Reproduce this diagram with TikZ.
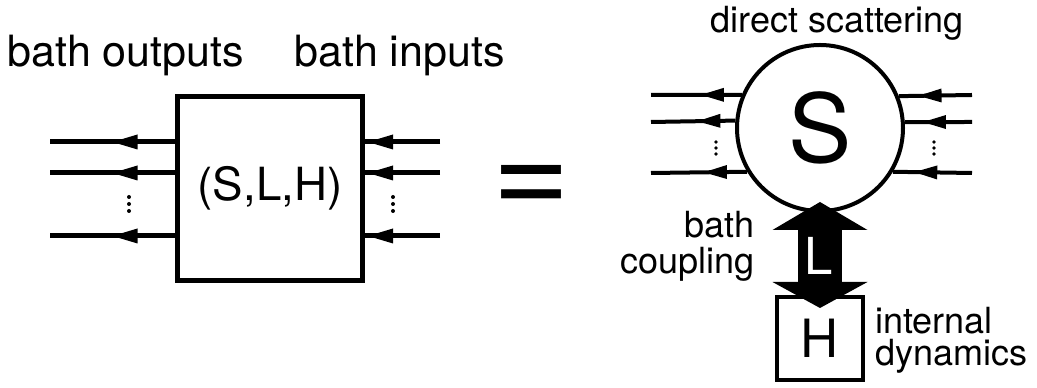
\documentclass[tikz,border=0pt]{standalone}
\usepackage{fontspec}
\setmainfont{TeX Gyre Heros}
\usetikzlibrary{arrows.meta,positioning,decorations.markings}
\tikzset{
  slh/.style={x=0.2mm, y=-0.2mm, every node/.style={inner sep=0pt}},
  sys/.style={draw, rectangle, line width=1mm, fill=white},
  wire/.style={line width=1mm, postaction=decorate,
               decoration={markings, mark=at position #1 with {\arrow{Triangle[length=5mm,width=3mm,line width=0pt]}}}},
  thinwire/.style={line width=0.8mm, postaction=decorate,
               decoration={markings, mark=at position #1 with {\arrow{Triangle[length=4.6mm,width=2.8mm,line width=0pt]}}}},
  coupling/.style={line width=8.8mm, {Triangle[length=5.6mm,width=19mm,line width=0pt]}-{Triangle[length=5.2mm,width=19mm,line width=0pt]},
                   shorten <=-2.2mm, shorten >=-2.6mm},
  big/.style={font=\fontsize{24.5}{28}\selectfont},
  tcap/.style={font=\fontsize{20.5}{#1}\selectfont},
  tcap/.default=24
}

\begin{document}
\begin{tikzpicture}[slh]
\useasboundingbox (0,0) rectangle (1037,388);
% the whole system as one box
\node[sys, minimum width=37mm, minimum height=36.8mm, font=\fontsize{26}{30}\selectfont] (box) at (270,188.5) {(S,L,H)};
\node[big, anchor=base west] (outs) at (7,67) {bath outputs};
\node[big, anchor=base west] (ins) at (294,67) {bath inputs};
\foreach \y [count=\i] in {142,173,236} {
  \coordinate (o\i) at (50,\y); \coordinate (i\i) at (440,\y);
  \draw[wire=0.5] (box.west|-o\i) -- (o\i);
  \draw[wire=0.96] (i\i) -- (box.east|-i\i);
}
\foreach \y in {197,204,211} {\fill (129,\y) circle[radius=0.4mm]; \fill (393,\y) circle[radius=0.4mm];}
\node[font=\fontsize{76}{76}\selectfont] (eq) at (531,190) {=};
% the same system split up
\node[draw, circle, line width=0.8mm, fill=white, minimum size=33.2mm, font=\fontsize{54}{60}\selectfont] (S) at (820,128) {S};
\node[sys, line width=0.8mm, minimum width=17.2mm, minimum height=16.6mm, font=\fontsize{30}{34}\selectfont] (H) at (820,338.5) {H};
\foreach \y/\a [count=\i] in {95/22.8,122/4.05,173/-31.97} {
  \coordinate (lo\i) at (651,\y); \coordinate (ri\i) at (972,\y);
  \draw[thinwire=0.45] (S.180-\a) -- (lo\i);
  \draw[thinwire=0.73] (ri\i) -- (S.\a);
}
\foreach \y in {142,148,154} {\fill (716,\y) circle[radius=0.36mm]; \fill (934,\y) circle[radius=0.36mm];}
\draw[coupling] (S.south) -- (H.north);
\node[text=white, font=\fontsize{29}{33}\selectfont] (L) at (819,256) {L};
\node[tcap, anchor=base] (ds) at (837,33) {direct scattering};
\node[tcap=20.5, align=right, anchor=north east] (bc) at (755,211) {bath\\coupling};
\node[tcap=18, align=left, anchor=north west] (id) at (875,307) {internal\\dynamics};
\end{tikzpicture}
\end{document}
